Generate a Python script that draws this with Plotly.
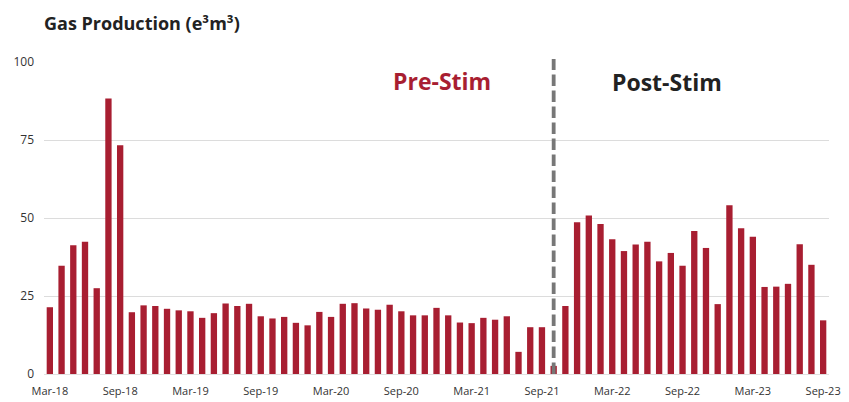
import plotly.graph_objects as go

months = []
mnames = ["Jan","Feb","Mar","Apr","May","Jun","Jul","Aug","Sep","Oct","Nov","Dec"]
for y in range(18, 24):
    for m in mnames:
        months.append(f"{m}-{y}")
months = months[months.index("Mar-18"):months.index("Sep-23") + 1]

gas = [21.4, 34.7, 41.3, 42.4, 27.5, 88.3, 73.3, 19.8, 22.0, 21.8,
       20.9, 20.4, 20.1, 18.0, 19.5, 22.6, 21.8, 22.5, 18.5, 17.8, 18.3, 16.4,
       15.6, 19.9, 18.3, 22.5, 22.7, 21.0, 20.6, 22.2, 20.1, 18.8, 18.8, 21.2,
       18.8, 16.5, 16.3, 18.0, 17.4, 18.5, 7.1, 15.0, 15.0, 2.6, 21.8, 48.6,
       50.8, 48.1, 43.2, 39.4, 41.5, 42.4, 36.1, 38.8, 34.7, 45.8, 40.4, 22.4,
       54.1, 46.7, 44.0, 27.9, 28.0, 28.9, 41.6, 35.0, 17.2]

tick_labels = months[::6]
stim_month = "Oct-21"
y_ticks = [0, 25, 50, 75, 100]

fig = go.Figure()
fig.add_trace(go.Bar(x=months, y=gas, marker=dict(color="#a81e31", line=dict(width=0)),
                     hoverinfo="x+y"))

fig.add_shape(type="line", x0=stim_month, x1=stim_month, xref="x", yref="paper",
              y0=0, y1=1.0096, line=dict(color="#777777", width=3.8, dash="11.5px,4.5px"),
              layer="above")

fig.add_annotation(x=0.507, y=0.94, xref="paper", yref="paper", text="<b>Pre-Stim</b>",
                   xanchor="center", yanchor="middle",
                   showarrow=False, font=dict(family="Open Sans", size=23, color="#a81e31"))
fig.add_annotation(x=0.793, y=0.937, xref="paper", yref="paper", text="<b>Post-Stim</b>",
                   xanchor="center", yanchor="middle",
                   showarrow=False, font=dict(family="Open Sans", size=23, color="#222222"))

fig.update_layout(
    width=841, height=394,
    margin=dict(l=36, r=20, t=54, b=28),
    paper_bgcolor="white", plot_bgcolor="white",
    bargap=0.46,
    showlegend=False,
    title=dict(text="<b>Gas Production (e³m³)</b>", x=0.0, xanchor="left",
               xref="paper", y=0.96, yanchor="middle",
               font=dict(family="Open Sans", size=18, color="#222222")),
    font=dict(family="Open Sans", size=11, color="#333333"),
)
fig.update_xaxes(type="category", tickmode="array", tickvals=tick_labels, ticktext=tick_labels,
                 showgrid=False, showline=True, linecolor="#e0e0e0", linewidth=1,
                 layer="above traces", ticks="", ticklabelstandoff=7, automargin=False,
                 tickfont=dict(size=11, color="#333333"),
                 range=[-0.5, len(months) - 0.5])
fig.update_yaxes(range=[0, 100], tickvals=y_ticks, showgrid=True, gridcolor="#dcdcdc",
                 gridwidth=1, zeroline=False, showline=False, ticks="", ticklabelstandoff=9,
                 automargin=False, tickfont=dict(size=12, color="#333333"))

fig.write_html("out.html")
